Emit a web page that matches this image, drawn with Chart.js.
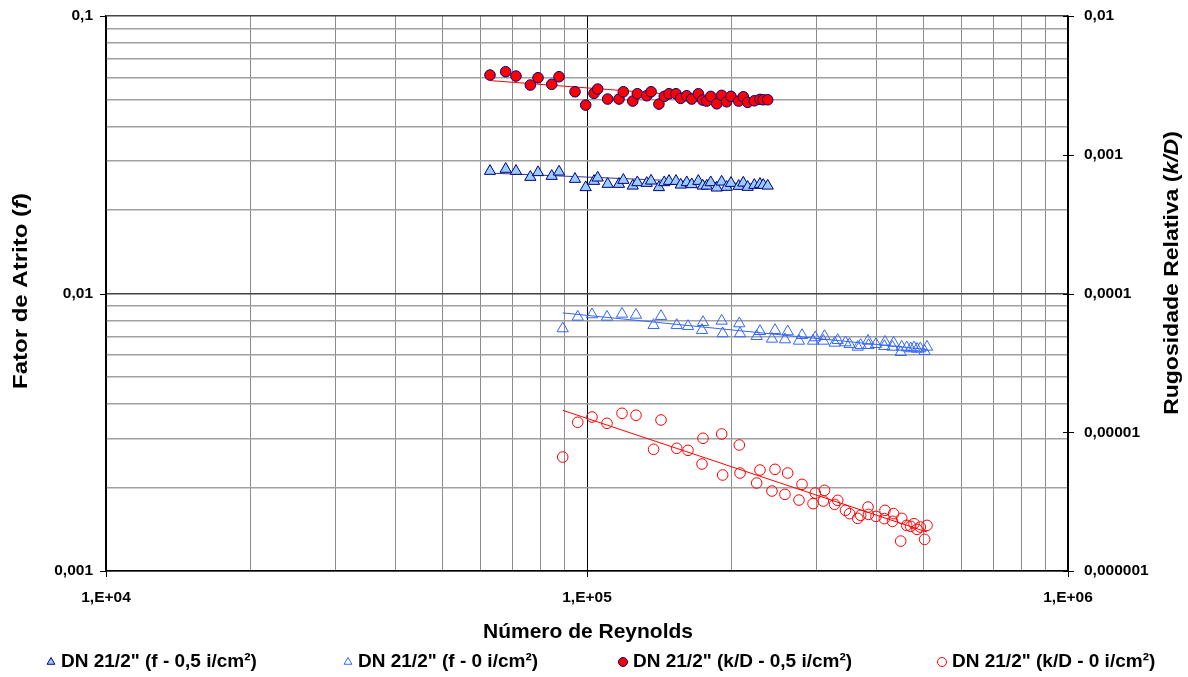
<!DOCTYPE html>
<html><head><meta charset="utf-8">
<script src="https://cdn.jsdelivr.net/npm/chart.js@4.4.1/dist/chart.umd.min.js"></script>
<style>html,body{margin:0;padding:0;background:#fff;} canvas{display:block;}</style>
</head><body>
<canvas id="c" width="1188" height="677"></canvas>
<script>
// ---- Data ----
const reynolds05 = [62850, 67760, 71180, 76240, 79100, 84460, 87470, 94420, 99380, 103400,
  105250, 110400, 116550, 119000, 124500, 127250, 133100, 135900, 141100, 144750,
  148100, 153100, 156600, 161200, 165100, 170400, 174000, 177400, 180800, 186100,
  190500, 195100, 199200, 206700, 211300, 215800, 222800, 228900, 232500, 237500];
const f05 = [0.02761, 0.02808, 0.02761, 0.02627, 0.02732, 0.02649, 0.02745, 0.02584, 0.02412, 0.02541,
  0.02612, 0.02479, 0.02479, 0.02562, 0.02443, 0.02513, 0.02499, 0.02547, 0.02412, 0.02513,
  0.02541, 0.02541, 0.02464, 0.02513, 0.02472, 0.02541, 0.02443, 0.02443, 0.02513, 0.02404,
  0.02526, 0.02418, 0.02499, 0.02438, 0.02505, 0.02418, 0.02458, 0.02479, 0.02458, 0.02443];
const kd05 = [0.003754, 0.003966, 0.003692, 0.003179, 0.003589, 0.003217, 0.003649, 0.002844, 0.002280, 0.002770,
  0.002975, 0.002520, 0.002520, 0.002844, 0.002437, 0.002752, 0.002662, 0.002844, 0.002318, 0.002635,
  0.002752, 0.002752, 0.002549, 0.002662, 0.002520, 0.002752, 0.002479, 0.002437, 0.002635, 0.002330,
  0.002680, 0.002409, 0.002635, 0.002437, 0.002618, 0.002385, 0.002449, 0.002507, 0.002490, 0.002490];

const reynolds0 = [89030, 95660, 102420, 110050, 118250, 126440, 137530, 142520, 153670, 162180,
  173420, 174250, 190550, 191470, 207320, 208040, 225320, 228890, 242400, 245960,
  257950, 261360, 275870, 279900, 295060, 298270, 309960, 311750, 327200, 332060,
  344670, 351490, 365440, 370680, 383880, 384770, 398840, 415070, 416410, 431630,
  433920, 448940, 451120, 462050, 470980, 478420, 485410, 493080, 503390, 509220];
const f0 = [0.007478, 0.008235, 0.008401, 0.008235, 0.008442, 0.008372, 0.007686, 0.008282, 0.007686, 0.007622,
  0.007374, 0.007880, 0.007966, 0.007175, 0.007795, 0.007175, 0.007015, 0.007311, 0.006860, 0.007374,
  0.006825, 0.007295, 0.006747, 0.007073, 0.006747, 0.006940, 0.006747, 0.007015, 0.006636, 0.006786,
  0.006658, 0.006565, 0.006419, 0.006511, 0.006747, 0.006511, 0.006565, 0.006457, 0.006691, 0.006419,
  0.006636, 0.006141, 0.006419, 0.006388, 0.006334, 0.006388, 0.006313, 0.006334, 0.006193, 0.006419];
const kd0 = [6.630e-6, 1.180e-5, 1.288e-5, 1.160e-5, 1.370e-5, 1.326e-5, 7.534e-6, 1.226e-5, 7.660e-6, 7.410e-6,
  5.902e-6, 9.046e-6, 9.714e-6, 4.917e-6, 8.091e-6, 5.083e-6, 4.305e-6, 5.342e-6, 3.770e-6, 5.405e-6,
  3.568e-6, 5.083e-6, 3.246e-6, 4.213e-6, 3.058e-6, 3.645e-6, 3.193e-6, 3.814e-6, 3.023e-6, 3.230e-6,
  2.736e-6, 2.590e-6, 2.395e-6, 2.518e-6, 2.890e-6, 2.559e-6, 2.476e-6, 2.384e-6, 2.736e-6, 2.280e-6,
  2.590e-6, 1.643e-6, 2.395e-6, 2.133e-6, 2.098e-6, 2.194e-6, 1.995e-6, 2.073e-6, 1.690e-6, 2.133e-6];

// trendlines (end points)
const trendRe05 = [62850, 237500];
const trendF05 = [0.02716, 0.02469];
const trendKd05 = [0.003425, 0.002417];
const trendRe0 = [89030, 509220];
const trendF0 = [0.008511, 0.006282];
const trendKd0 = [1.440e-5, 1.908e-6];

// tick labels
const xDecades = [1e4, 1e5, 1e6];
const xTickLabels = ['1,E+04', '1,E+05', '1,E+06'];
const leftDecades = [0.001, 0.01, 0.1];
const leftTickLabels = ['0,001', '0,01', '0,1'];
const rightDecades = [1e-6, 1e-5, 1e-4, 1e-3, 1e-2];
const rightTickLabels = ['0,000001', '0,00001', '0,0001', '0,001', '0,01'];

const seriesNames = ['DN 21/2" (f - 0,5 i/cm²)', 'DN 21/2" (f - 0 i/cm²)',
  'DN 21/2" (k/D - 0,5 i/cm²)', 'DN 21/2" (k/D - 0 i/cm²)'];

// ---- helpers ----
const FONT = "'Liberation Sans', Arial, sans-serif";
const pts = (xs, ys) => xs.map((x, i) => ({x: x, y: ys[i]}));
const near = (a, b) => Math.abs(Math.log10(a) - Math.log10(b)) < 1e-6;
function logTicks(min, max) {
  const out = [];
  for (let e = Math.round(Math.log10(min)); e < Math.round(Math.log10(max)); e++) {
    for (let m = 1; m <= 9; m++) out.push({value: m * Math.pow(10, e)});
  }
  out.push({value: max});
  return out;
}
const isDecade = v => Math.abs(Math.log10(v) - Math.round(Math.log10(v))) < 1e-6;
function labelFor(v, decs, labels) {
  const i = decs.findIndex(d => near(d, v));
  return i >= 0 ? labels[i] : '';
}
function zeroPad(s) { s.paddingTop = 0; s.paddingBottom = 0; s.paddingLeft = 0; s.paddingRight = 0; }

const markerSets = [
  {label: seriesNames[0], data: pts(reynolds05, f05), yAxisID: 'yL', pointStyle: 'triangle',
   pointRadius: 6.5, backgroundColor: '#99ccff', borderColor: '#000080', pointBorderWidth: 1},
  {label: seriesNames[1], data: pts(reynolds0, f0), yAxisID: 'yL', pointStyle: 'triangle',
   pointRadius: 6.5, backgroundColor: 'rgba(0,0,0,0)', borderColor: '#3366ff', pointBorderWidth: 1},
  {label: seriesNames[2], data: pts(reynolds05, kd05), yAxisID: 'yR', pointStyle: 'circle',
   pointRadius: 5.3, backgroundColor: '#ff0000', borderColor: '#000080', pointBorderWidth: 1},
  {label: seriesNames[3], data: pts(reynolds0, kd0), yAxisID: 'yR', pointStyle: 'circle',
   pointRadius: 5.3, backgroundColor: 'rgba(0,0,0,0)', borderColor: '#ff0000', pointBorderWidth: 1}
];
markerSets.forEach(d => { d.showLine = false; d.order = 0; d.pointHoverRadius = d.pointRadius; });

const trendSets = [
  {data: pts(trendRe05, trendF05), yAxisID: 'yL', borderColor: '#333399'},
  {data: pts(trendRe0, trendF0), yAxisID: 'yL', borderColor: '#3366ff'},
  {data: pts(trendRe05, trendKd05), yAxisID: 'yR', borderColor: '#ff0000'},
  {data: pts(trendRe0, trendKd0), yAxisID: 'yR', borderColor: '#ff0000'}
];
trendSets.forEach(d => { d.label = 'trend'; d.showLine = true; d.pointRadius = 0; d.borderWidth = 1;
  d.fill = false; d.order = 1; d.backgroundColor = d.borderColor; });

const decorPlugin = {
  id: 'decor',
  afterDraw(chart) {
    const ctx = chart.ctx;
    const a = chart.chartArea;
    const yR = chart.scales.yR, yL = chart.scales.yL, x = chart.scales.x;
    ctx.save();
    ctx.strokeStyle = '#000';
    ctx.lineWidth = 1;
    rightDecades.forEach(v => {
      const py = Math.round(yR.getPixelForValue(v)) + 0.5;
      ctx.beginPath(); ctx.moveTo(a.right - 5, py); ctx.lineTo(a.right + 6, py); ctx.stroke();
    });
    xDecades.forEach(v => {
      const px = Math.round(x.getPixelForValue(v)) + 0.5;
      ctx.beginPath(); ctx.moveTo(px, a.bottom - 5); ctx.lineTo(px, a.bottom + 6); ctx.stroke();
    });
    leftDecades.forEach(v => {
      const py = Math.round(yL.getPixelForValue(v)) + 0.5;
      ctx.beginPath(); ctx.moveTo(a.left - 6, py); ctx.lineTo(a.left, py); ctx.stroke();
    });

    // axis titles (mixed bold / bold italic)
    function mixed(parts, cx, cy, rot, stretch) {
      ctx.save();
      ctx.translate(cx, cy);
      ctx.rotate(rot);
      ctx.scale(stretch, 1);
      ctx.textBaseline = 'middle';
      ctx.fillStyle = '#000';
      let w = 0;
      parts.forEach(p => { ctx.font = p[1]; w += ctx.measureText(p[0]).width; });
      let px = -w / 2;
      ctx.textAlign = 'left';
      parts.forEach(p => { ctx.font = p[1]; ctx.fillText(p[0], px, 0); px += ctx.measureText(p[0]).width; });
      ctx.restore();
    }
    const B = 'bold 20px ' + FONT, BI = 'italic bold 20px ' + FONT;
    mixed([['Fator de Atrito (', B], ['f', BI], [')', B]], 21, 291, -Math.PI / 2, 1.2);
    mixed([['Rugosidade Relativa (', B], ['k/D', BI], [')', B]], 1172, 273, -Math.PI / 2, 1.15);
    mixed([['Número de Reynolds', 'bold 21px ' + FONT]], 588, 632, 0, 1);

    // legend
    const legX = [51, 348, 623, 942];
    const legY = 662;
    ctx.font = 'bold 19px ' + FONT;
    ctx.textBaseline = 'middle';
    ctx.textAlign = 'left';
    markerSets.forEach((d, i) => {
      ctx.fillStyle = d.backgroundColor;
      ctx.strokeStyle = d.borderColor;
      ctx.lineWidth = 1;
      Chart.helpers.drawPoint(ctx, {pointStyle: d.pointStyle, radius: 4.5, rotation: 0, borderWidth: 1}, legX[i], legY);
      ctx.fillStyle = '#000';
      ctx.fillText(d.label, legX[i] + 10, legY);
    });
    ctx.restore();
  }
};

const tickFont = {family: FONT, size: 15.5, weight: 'bold'};

new Chart(document.getElementById('c'), {
  type: 'scatter',
  data: {datasets: markerSets.concat(trendSets)},
  options: {
    responsive: false,
    animation: false,
    events: [],
    layout: {padding: {top: 16, left: 0, right: 0, bottom: 0}},
    plugins: {legend: {display: false}, tooltip: {enabled: false}, title: {display: false}},
    scales: {
      x: {
        type: 'logarithmic', position: 'bottom', min: 1e4, max: 1e6,
        afterBuildTicks: s => { s.ticks = logTicks(1e4, 1e6); },
        afterFit: s => { s.height = 106; zeroPad(s); },
        ticks: {autoSkip: false, maxRotation: 0, minRotation: 0, padding: 17, color: '#000', font: tickFont,
          callback: v => labelFor(v, xDecades, xTickLabels)},
        grid: {
          color: c => (c.tick && isDecade(c.tick.value)) ? '#000' : '#8c8c8c',
          lineWidth: 1, drawTicks: false, tickLength: 0
        },
        border: {color: '#000', width: 1.5}
      },
      yL: {
        type: 'logarithmic', position: 'left', min: 0.001, max: 0.1,
        afterBuildTicks: s => { s.ticks = logTicks(0.001, 0.1); },
        afterFit: s => { s.width = 106; zeroPad(s); },
        ticks: {autoSkip: false, padding: 13, color: '#000', font: tickFont,
          callback: v => labelFor(v, leftDecades, leftTickLabels)},
        grid: {
          color: c => (c.tick && isDecade(c.tick.value)) ? '#444' : '#a0a0a0',
          lineWidth: 1.5, drawTicks: false, tickLength: 0
        },
        border: {color: '#000', width: 1.5}
      },
      yR: {
        type: 'logarithmic', position: 'right', min: 1e-6, max: 0.01,
        afterBuildTicks: s => { s.ticks = rightDecades.map(v => ({value: v})); },
        afterFit: s => { s.width = 120; zeroPad(s); },
        ticks: {autoSkip: false, padding: 16, color: '#000', font: tickFont,
          callback: v => labelFor(v, rightDecades, rightTickLabels)},
        grid: {drawOnChartArea: false, drawTicks: false, tickLength: 0},
        border: {color: '#000', width: 1.5}
      }
    }
  },
  plugins: [decorPlugin]
});
</script>
</body></html>
